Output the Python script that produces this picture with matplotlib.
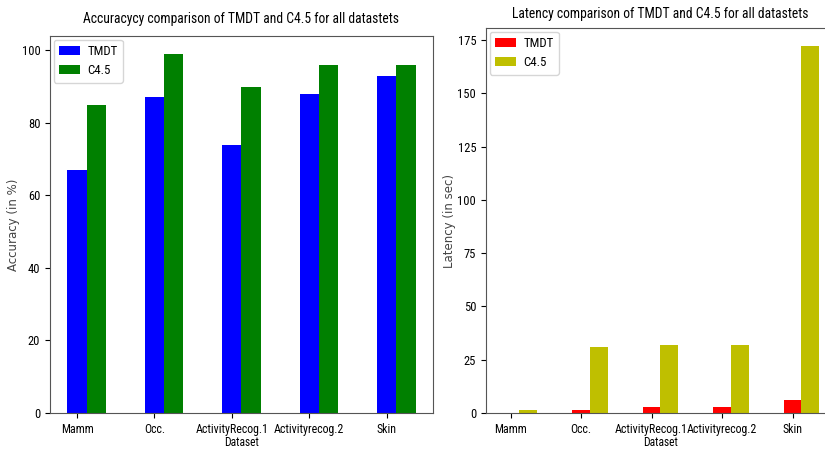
"""
Accuracy / latency comparison of TMDT and C4.5
"""
import numpy as np
import matplotlib
matplotlib.use("Agg")
import matplotlib.pyplot as plt

plt.rcParams['font.family'] = ['Roboto Condensed', 'Liberation Sans', 'DejaVu Sans']

# =============================================================================
# Data
# =============================================================================
datasets = ['Mamm', 'Occ.', 'ActivityRecog.1', 'Activityrecog.2', 'Skin']
acc_tmdt = [67, 87, 74, 88, 93]
acc_c45 = [85, 99, 90, 96, 96]
lat_tmdt = [0.2, 1.4, 2.6, 2.6, 6.3]
lat_c45 = [1.5, 31, 31.7, 32, 172]

x = np.arange(len(datasets))
w = 0.25

fig = plt.figure(figsize=(8.25, 4.5), dpi=100)

# left plot: accuracy
ax1 = fig.add_axes([0.0606, 0.0822, 0.4642, 0.838])
ax1.bar(x, acc_tmdt, w, color='blue', label='TMDT')
ax1.bar(x + w, acc_c45, w, color='green', label='C4.5')
ax1.set_xticks(x)
ax1.set_xticklabels(datasets)
ax1.set_yticks([0, 20, 40, 60, 80, 100])
ax1.set_ylabel('Accuracy (in %)', fontsize=8.5, family='DejaVu Sans',
               color='#444444', labelpad=1)
ax1.set_title('Accuracycy comparison of TMDT and C4.5 for all datastets',
              fontsize=9.8, pad=9)

# right plot: latency
ax2 = fig.add_axes([0.589, 0.0822, 0.423, 0.8556])
ax2.bar(x, lat_tmdt, w, color='red', label='TMDT')
ax2.bar(x + w, lat_c45, w, color='#bfbf00', label='C4.5')
ax2.set_xticks(x)
ax2.set_xticklabels(datasets)
ax2.set_yticks([0, 25, 50, 75, 100, 125, 150, 175])
ax2.set_ylabel('Latency (in sec)', fontsize=8.5, family='DejaVu Sans',
               color='#444444', labelpad=1)
ax2.set_title('Latency comparison of TMDT and C4.5 for all datastets',
              fontsize=9.8, pad=7)

for ax in (ax1, ax2):
    ax.tick_params(axis='x', labelsize=8.6, pad=4)
    ax.tick_params(axis='y', labelsize=9)
    ax.set_xlabel('Dataset', fontsize=8.3, labelpad=0)
    ax.legend(loc='upper left', fontsize=9.3, handlelength=1.6,
              handletextpad=0.6, borderaxespad=0.3)
    for s in ax.spines.values():
        s.set_color('#555555')

fig.savefig('out.png', dpi=100)
